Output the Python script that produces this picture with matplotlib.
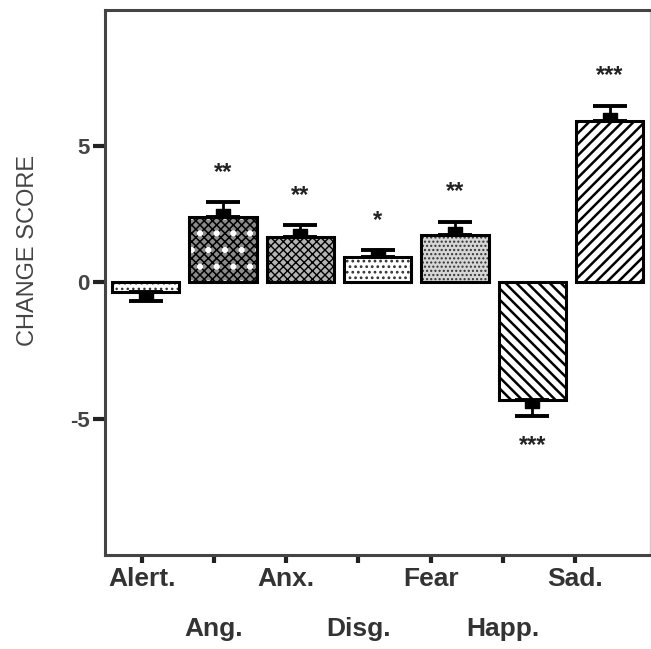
import numpy as np
import matplotlib
matplotlib.use("Agg")
import matplotlib.pyplot as plt
from matplotlib.path import Path

# 数据
categories = ["Alert.", "Ang.", "Anx.", "Disg.", "Fear", "Happ.", "Sad."]
means = [-0.35, 2.39, 1.65, 0.92, 1.73, -4.30, 5.92]
errors = [0.35, 0.55, 0.45, 0.26, 0.50, 0.60, 0.55]
stars = ["", "**", "**", "*", "**", "***", "***"]
yticks = [-5, 0, 5]

# 每根柱子的填充样式：底色、底纹、底纹线宽、叠加的白点
fills = [
    dict(fc="white", hatch="...", hc="#333333", lw=1.0, dots=False),
    dict(fc="#8a8a8a", hatch="xxxx", hc="black", lw=1.1, dots=True),
    dict(fc="#b4b4b4", hatch="xxxx", hc="black", lw=1.0, dots=False),
    dict(fc="white", hatch="...", hc="#333333", lw=1.2, dots=False),
    dict(fc="#d6d6d6", hatch="....", hc="#333333", lw=1.0, dots=False),
    dict(fc="white", hatch="\\\\\\", hc="black", lw=1.8, dots=False),
    dict(fc="white", hatch="///", hc="black", lw=1.8, dots=False),
]

FONT = ["Liberation Sans", "DejaVu Sans"]

fig = plt.figure(figsize=(6.51, 6.49), dpi=100)
ax = fig.add_axes([0.161, 0.145, 0.837, 0.840])

x = np.arange(len(categories))
width = 0.87

for i in range(len(categories)):
    f = fills[i]
    with plt.rc_context({"hatch.linewidth": f["lw"]}):
        ax.bar(x[i], means[i], width=width, color=f["fc"], edgecolor=f["hc"],
               hatch=f["hatch"], linewidth=0, zorder=2)
    if f["dots"]:
        with plt.rc_context({"hatch.linewidth": 2.0}):
            ax.bar(x[i], means[i], width=width, fill=False, edgecolor="white",
                   hatch=".", linewidth=0, zorder=2.5)
    ax.bar(x[i], means[i], width=width, fill=False, edgecolor="black",
           linewidth=2.2, zorder=3)

# 均值小方块（贴在柱顶外侧）
up = Path([(-1, 0), (1, 0), (1, 1.1), (-1, 1.1), (-1, 0)])
down = Path([(-1, 0), (1, 0), (1, -1.1), (-1, -1.1), (-1, 0)])
for i in range(len(categories)):
    sign = 1 if means[i] >= 0 else -1
    yerr = [[0], [errors[i]]] if sign > 0 else [[errors[i]], [0]]
    ax.errorbar(x[i], means[i], yerr=yerr, fmt="none", ecolor="black",
                elinewidth=2, capsize=12.5, capthick=2.8, zorder=4)
    ax.plot(x[i], means[i], marker=up if sign > 0 else down, markersize=11,
            color="black", linestyle="none", zorder=5)
    if stars[i]:
        ys = means[i] + sign * (errors[i] + 1.1)
        ax.text(x[i], ys, stars[i], ha="center", va="center", fontsize=17,
                fontweight="bold", color="#222222", family=FONT)

ax.set_xlim(-0.53, 6.52)
ax.set_ylim(-10, 10)

# x 轴刻度（两行交错）
tick_pos = -0.05 + x * 0.934
ax.set_xticks(tick_pos)
ax.set_xticklabels(categories, family=FONT, fontweight="bold", fontsize=19, color="#333333")
for i, tick in enumerate(ax.xaxis.get_major_ticks()):
    tick.set_pad(3 if i % 2 == 0 else 39)
ax.tick_params(axis="x", length=6, width=3, color="#222222")

ax.set_yticks(yticks)
ax.set_yticklabels([str(v) for v in yticks], family=FONT, fontweight="bold",
                   fontsize=16, color="#444444")
ax.tick_params(axis="y", length=9, width=3, color="#222222", pad=2)

ax.set_ylabel("CHANGE SCORE", family=FONT, fontsize=17, color="#444444")
ax.yaxis.set_label_coords(-0.12, 0.558)

for side in ["left", "bottom", "top"]:
    ax.spines[side].set_linewidth(2.2)
    ax.spines[side].set_color("#444444")
ax.spines["right"].set_linewidth(1)
ax.spines["right"].set_color("#cccccc")

plt.savefig("out.png", dpi=100)
plt.close()
